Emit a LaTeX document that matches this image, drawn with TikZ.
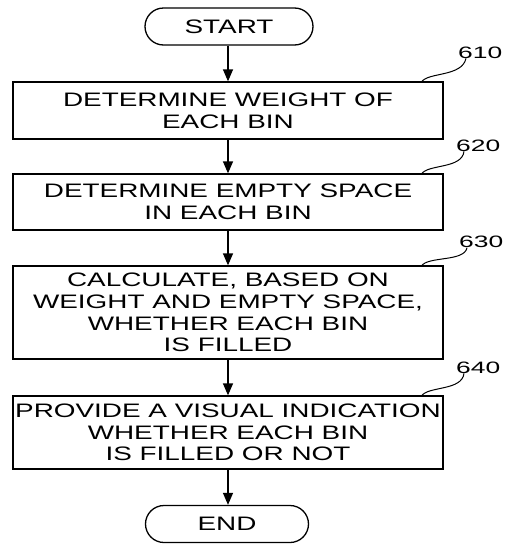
\documentclass[tikz,border=0pt]{standalone}
\usepackage{fontspec}
\setmainfont{Liberation Sans}[FakeStretch=1.43]
\newfontfamily\numfont{Liberation Sans}[FakeStretch=1.6]
\usetikzlibrary{arrows.meta,shapes.misc}
\begin{document}
\begin{tikzpicture}[x=1pt,y=-1pt,
  every node/.style={font=\fontsize{19.5}{21.7}\selectfont, inner sep=0pt},
  stepbox/.style={draw, line width=1.3pt, minimum width=430pt, align=center},
  term/.style={draw, line width=1.3pt, rounded rectangle, minimum height=37pt},
  flow/.style={-{Triangle[length=12pt,width=10pt]}, line width=1.3pt},
  num/.style={font=\numfont\fontsize{16.5}{18}\selectfont},
  leader/.style={line width=1pt}]
\useasboundingbox (0,0) rectangle (505,544);
\node[term, minimum width=168pt] (start) at (229,26.5) {START};
\node[stepbox, minimum height=57pt] (s610) at (228,110.5) {DETERMINE WEIGHT OF\\EACH BIN};
\node[stepbox, minimum height=56pt] (s620) at (228,202) {DETERMINE EMPTY SPACE\\IN EACH BIN};
\node[stepbox, minimum height=93pt] (s630) at (228,312.5) {CALCULATE, BASED ON\\WEIGHT AND EMPTY SPACE,\\WHETHER EACH BIN\\IS FILLED};
\node[stepbox, minimum height=73pt] (s640) at (228,432.5) {PROVIDE A VISUAL INDICATION\\WHETHER EACH BIN\\IS FILLED OR NOT};
\node[term, minimum width=163pt] (end) at (227,524) {END};
\draw[flow] (start.south -| s610.north) -- (s610.north);
\draw[flow] (s610) -- (s620);
\draw[flow] (s620) -- (s630);
\draw[flow] (s630) -- (s640);
\draw[flow] (s640.south) -- (s640.south |- end.north);
\node[num, anchor=base west] (l610) at (458,58) {610};
\node[num, anchor=base west] (l620) at (456,151) {620};
\node[num, anchor=base west] (l630) at (459,247.5) {630};
\node[num, anchor=base west] (l640) at (456,373) {640};
\coordinate (a610) at (421.5,82);
\coordinate (a620) at (421.5,174);
\coordinate (a630) at (421.5,266);
\coordinate (a640) at (421.5,396);
\draw[leader] (a610) .. controls (428,72) and (462,77) .. ([xshift=8pt]l610.south west);
\draw[leader] (a620) .. controls (428,164) and (462,169) .. ([xshift=8pt]l620.south west);
\draw[leader] (a630) .. controls (428,256) and (464,262) .. ([xshift=8pt]l630.south west);
\draw[leader] (a640) .. controls (428,386) and (462,391) .. ([xshift=8pt]l640.south west);
\end{tikzpicture}
\end{document}
